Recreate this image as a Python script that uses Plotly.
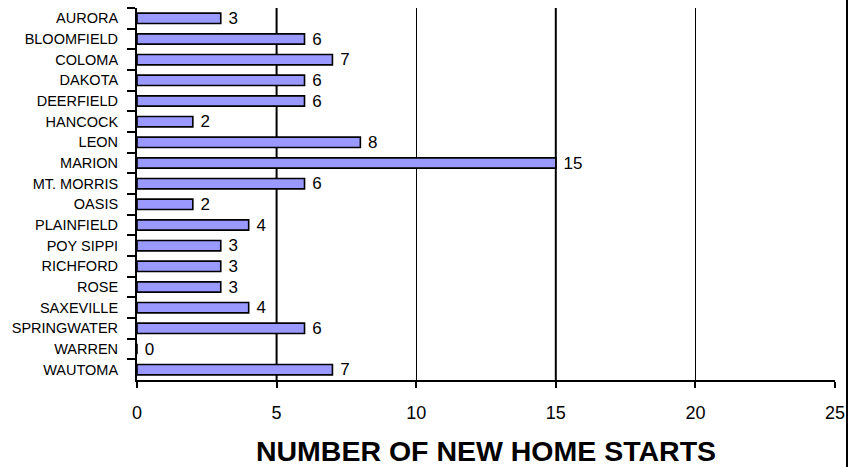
import plotly.graph_objects as go

towns = ["AURORA", "BLOOMFIELD", "COLOMA", "DAKOTA", "DEERFIELD", "HANCOCK", "LEON",
         "MARION", "MT. MORRIS", "OASIS", "PLAINFIELD", "POY SIPPI", "RICHFORD", "ROSE",
         "SAXEVILLE", "SPRINGWATER", "WARREN", "WAUTOMA"]
starts = [3, 6, 7, 6, 6, 2, 8, 15, 6, 2, 4, 3, 3, 3, 4, 6, 0, 7]
x_ticks = [0, 5, 10, 15, 20, 25]
thick_grid = [5, 15]

FONT = "Liberation Sans, Arial, sans-serif"

fig = go.Figure(go.Bar(
    x=starts, y=towns, orientation="h",
    marker=dict(color="#9999FF", line=dict(color="black", width=1.6)),
    width=0.5,
    text=[" " + str(v) for v in starts], textposition="outside",
    constraintext="none",
    textfont=dict(family=FONT, size=17, color="black"),
    cliponaxis=False,
))

shapes = [dict(type="line", xref="x", yref="paper", x0=g, x1=g, y0=0, y1=1,
               line=dict(color="black", width=2), layer="below") for g in thick_grid]
shapes.append(dict(type="line", xref="paper", yref="paper", x0=1.0172, x1=1.0172,
                   y0=-0.25, y1=1.05, line=dict(color="black", width=2)))

fig.update_layout(
    width=849, height=467,
    margin=dict(l=137, r=14, t=8, b=87, autoexpand=False),
    paper_bgcolor="white", plot_bgcolor="white",
    showlegend=False,
    font=dict(family=FONT, color="black"),
    xaxis=dict(
        range=[0, 25], tickvals=x_ticks, ticks="outside", ticklen=6, tickwidth=2,
        tickcolor="black", showline=True, linecolor="black", linewidth=2,
        showgrid=True, gridcolor="black", gridwidth=1, zeroline=False,
        tickfont=dict(size=18, family=FONT), ticklabelstandoff=9, automargin=False,
        title=dict(text="<b>NUMBER OF NEW HOME STARTS</b>", font=dict(size=28.5, family=FONT), standoff=20),
    ),
    yaxis=dict(
        autorange="reversed", ticks="outside", tickson="boundaries", ticklen=8,
        tickwidth=2, tickcolor="black", showline=True, linecolor="black", linewidth=2,
        showgrid=False, tickfont=dict(size=14.5, family=FONT), ticklabelstandoff=14,
        automargin=False,
    ),
    shapes=shapes,
)

fig.write_html("out.html", post_script="document.body.style.margin='0';",
               config={"displayModeBar": False})
